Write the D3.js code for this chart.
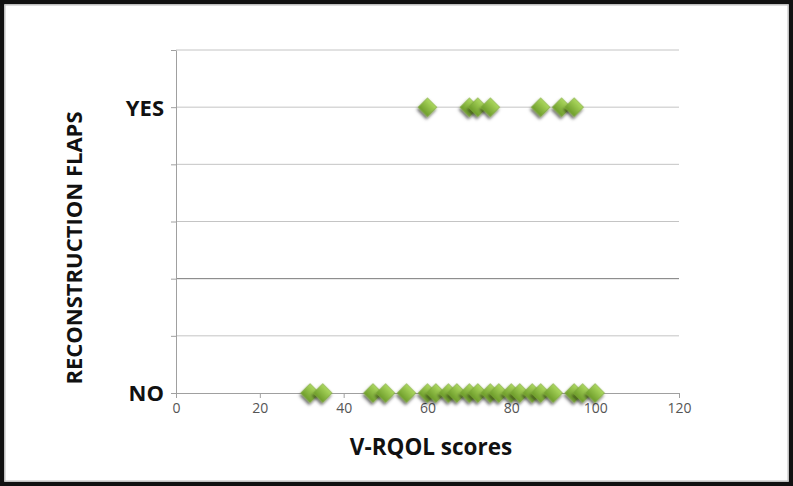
<!DOCTYPE html>
<html><head><meta charset="utf-8">
<script src="https://cdn.jsdelivr.net/npm/d3@7"></script>
<style>body{margin:0;background:#fff}svg{display:block}</style>
</head><body>
<svg id="c" width="793" height="486"></svg>
<script>
const xTicks = [0, 20, 40, 60, 80, 100, 120];
const yTicks = [0, 0.2, 0.4, 0.6, 0.8, 1, 1.2];
const yLabels = {0: "NO", 1: "YES"};
const yesScores = [60, 70, 72, 75, 87, 92, 95];
const noScores = [32, 35, 47, 50, 55, 60, 62, 65, 67, 70, 72, 75, 77, 80, 82, 85, 87, 90, 95, 97, 100];

const svg = d3.select("#c");
const W = 793, H = 486;
const m = {l: 176, r: 114, t: 50, b: 93};
const x = d3.scaleLinear().domain([0, 120]).range([m.l, W - m.r]);
const y = d3.scaleLinear().domain([0, 1.2]).range([H - m.b, m.t]);

const defs = svg.append("defs");
const g = defs.append("linearGradient").attr("id", "gr").attr("x1", 0).attr("y1", 0).attr("x2", 0).attr("y2", 1);
g.append("stop").attr("offset", "0%").attr("stop-color", "#acd85e");
g.append("stop").attr("offset", "100%").attr("stop-color", "#6e9d2b");
const f = defs.append("filter").attr("id", "sh").attr("x", "-50%").attr("y", "-50%").attr("width", "200%").attr("height", "200%");
f.append("feDropShadow").attr("dx", 1).attr("dy", 2.5).attr("stdDeviation", 1.6).attr("flood-color", "#000").attr("flood-opacity", 0.6);

svg.append("rect").attr("x", 0).attr("y", 0).attr("width", W).attr("height", H).attr("fill", "#fff");

// gridlines
svg.append("g").selectAll("line").data(yTicks.filter(d => d > 0)).join("line")
  .attr("x1", m.l).attr("x2", W - m.r)
  .attr("y1", d => y(d)).attr("y2", d => y(d))
  .attr("stroke", d => Math.abs(d - 0.4) < 1e-9 ? "#7a7a7a" : "#c4c4c4").attr("stroke-width", 1);

// y axis
const ya = svg.append("g").attr("transform", `translate(${m.l},0)`)
  .call(d3.axisLeft(y).tickValues(yTicks).tickSize(5).tickSizeOuter(0).tickFormat(d => yLabels[d] || ""));
ya.select(".domain").attr("stroke", "#a0a0a0");
ya.selectAll(".tick line").attr("stroke", "#a0a0a0");
ya.selectAll(".tick text").attr("font-family", "'Open Sans', sans-serif").attr("font-weight", "bold")
  .attr("font-size", 22).attr("fill", "#111").attr("x", -12).attr("dy", "0.36em");

// x axis
const xa = svg.append("g").attr("transform", `translate(0,${y(0)})`)
  .call(d3.axisBottom(x).tickValues(xTicks).tickSize(5).tickSizeOuter(0));
xa.select(".domain").attr("stroke", "#a0a0a0");
xa.selectAll(".tick line").attr("stroke", "#a0a0a0");
xa.selectAll(".tick text").attr("font-family", "'Open Sans', sans-serif").attr("font-size", 14)
  .attr("fill", "#555").attr("dy", "0.85em");

// titles
svg.append("text").attr("x", 431).attr("y", 455).attr("text-anchor", "middle")
  .attr("font-family", "'Open Sans', sans-serif").attr("font-weight", "bold").attr("font-size", 22.5).attr("fill", "#111")
  .text("V-RQOL scores");
svg.append("text").attr("transform", `translate(82,248) rotate(-90)`).attr("text-anchor", "middle")
  .attr("font-family", "'Open Sans', sans-serif").attr("font-weight", "bold").attr("font-size", 22).attr("fill", "#111")
  .text("RECONSTRUCTION FLAPS");

// points
const sym = d3.symbol(d3.symbolSquare, 175);
const pts = [...noScores.map(v => ({v, c: 0})), ...yesScores.map(v => ({v, c: 1}))];
svg.append("g").selectAll("path").data(pts).join("path")
  .attr("d", sym)
  .attr("transform", d => `translate(${x(d.v)},${y(d.c)}) rotate(45)`)
  .attr("fill", "url(#gr)").attr("stroke", "#7aa838").attr("stroke-width", 0.6)
  .attr("filter", "url(#sh)");

// frame
svg.append("rect").attr("x", 2).attr("y", 2).attr("width", W - 4).attr("height", H - 4)
  .attr("fill", "none").attr("stroke", "#111").attr("stroke-width", 4.5);
svg.append("rect").attr("x", 5).attr("y", 5).attr("width", W - 10).attr("height", H - 10)
  .attr("fill", "none").attr("stroke", "#bbb").attr("stroke-width", 1);
</script>
</body></html>
